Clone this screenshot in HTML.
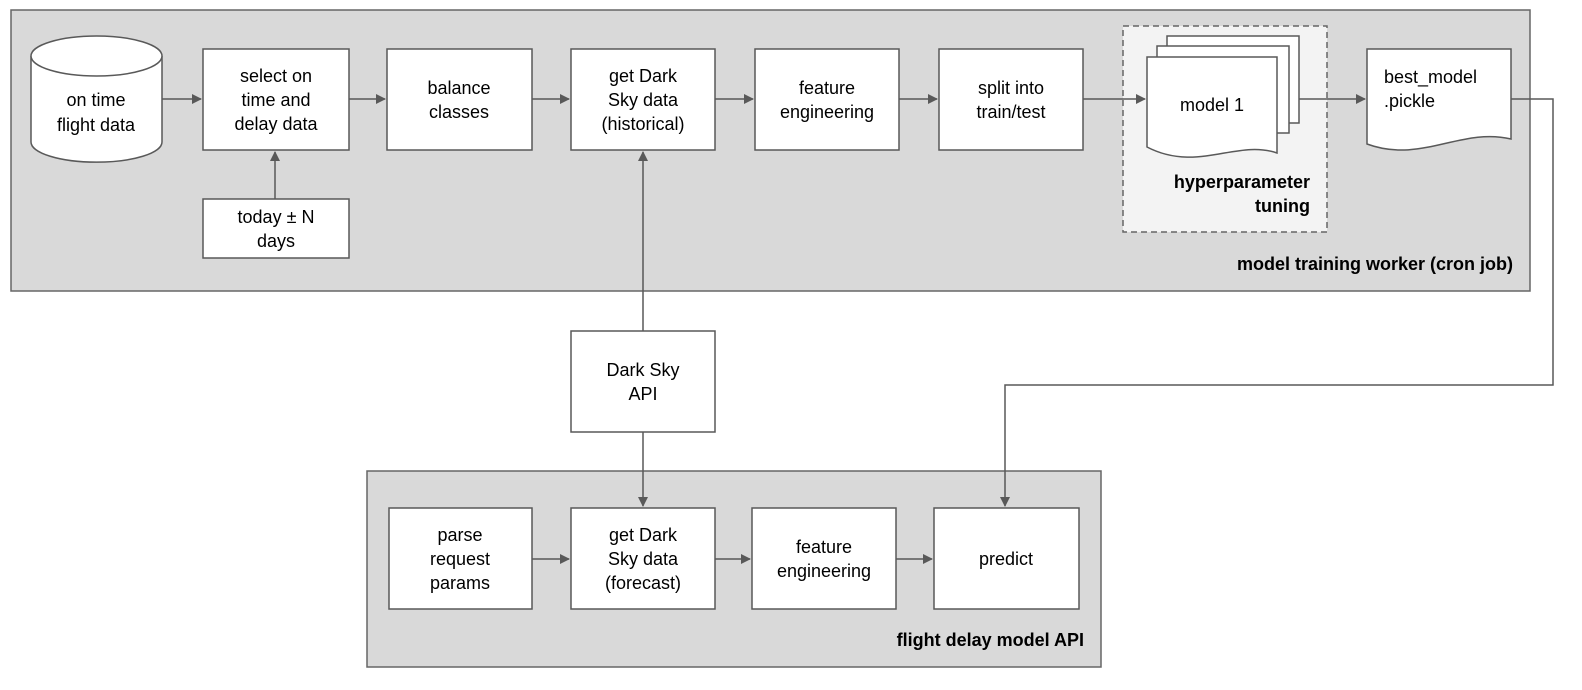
<!DOCTYPE html>
<html><head><style>
html,body{margin:0;padding:0;background:#fff;overflow:hidden;width:1582px;height:690px}
svg{display:block;position:absolute;left:0;top:0}
text{font-family:"Liberation Sans",Arial,sans-serif;font-size:18px;fill:#000}
.b{font-weight:bold}
</style></head><body>
<svg width="1582" height="690" viewBox="0 0 1582 690">
<defs><marker id="a" markerWidth="10" markerHeight="10" refX="9" refY="5" orient="auto" markerUnits="userSpaceOnUse"><path d="M0,0 L10,5 L0,10z" fill="#595959"/></marker></defs>
<g stroke="#666" stroke-width="1.5">
<rect x="11" y="10" width="1519" height="281" fill="#d9d9d9"/>
<rect x="367" y="471" width="734" height="196" fill="#d9d9d9"/>
<rect x="1123" y="26" width="204" height="206" fill="#f3f3f3" stroke-dasharray="6,4"/>
</g>
<g stroke="#595959" stroke-width="1.5" fill="#fff">
<path d="M31,56 v86 a65,20 0 0 0 131,0 v-86"/>
<ellipse cx="96.5" cy="56" rx="65.5" ry="20"/>
<rect x="203" y="49" width="146" height="101"/>
<rect x="203" y="199" width="146" height="59"/>
<rect x="387" y="49" width="145" height="101"/>
<rect x="571" y="49" width="144" height="101"/>
<rect x="755" y="49" width="144" height="101"/>
<rect x="939" y="49" width="144" height="101"/>
<path d="M1167,36 h132 v87 h-132z"/>
<path d="M1157,46 h132 v87 h-132z"/>
<path d="M1147,57 h130 v96 c-40,-14 -80,20 -130,-6z"/>
<path d="M1367,49 h144 v90 c-50,-12 -90,25 -144,5z"/>
<rect x="571" y="331" width="144" height="101"/>
<rect x="389" y="508" width="143" height="101"/>
<rect x="571" y="508" width="144" height="101"/>
<rect x="752" y="508" width="144" height="101"/>
<rect x="934" y="508" width="145" height="101"/>
</g>
<g stroke="#595959" stroke-width="1.5" fill="none" marker-end="url(#a)">
<path d="M162,99 H201"/>
<path d="M349,99 H385"/>
<path d="M532,99 H569"/>
<path d="M715,99 H753"/>
<path d="M899,99 H937"/>
<path d="M1083,99 H1145"/>
<path d="M1299,99 H1365"/>
<path d="M275,199 V152"/>
<path d="M643,331 V152"/>
<path d="M643,432 V506"/>
<path d="M532,559 H569"/>
<path d="M715,559 H750"/>
<path d="M896,559 H932"/>
<path d="M1511,99 H1553 V385 H1005 V506"/>
</g>
<g text-anchor="middle">
<text x="96" y="106">on time</text><text x="96" y="131">flight data</text>
<text x="276" y="82">select on</text><text x="276" y="106">time and</text><text x="276" y="130">delay data</text>
<text x="276" y="223">today ± N</text><text x="276" y="247">days</text>
<text x="459" y="94">balance</text><text x="459" y="118">classes</text>
<text x="643" y="82">get Dark</text><text x="643" y="106">Sky data</text><text x="643" y="130">(historical)</text>
<text x="827" y="94">feature</text><text x="827" y="118">engineering</text>
<text x="1011" y="94">split into</text><text x="1011" y="118">train/test</text>
<text x="1212" y="111">model 1</text>
<text x="643" y="376">Dark Sky</text><text x="643" y="400">API</text>
<text x="460" y="541">parse</text><text x="460" y="565">request</text><text x="460" y="589">params</text>
<text x="643" y="541">get Dark</text><text x="643" y="565">Sky data</text><text x="643" y="589">(forecast)</text>
<text x="824" y="553">feature</text><text x="824" y="577">engineering</text>
<text x="1006" y="565">predict</text>
</g>
<text x="1384" y="83">best_model</text><text x="1384" y="107">.pickle</text>
<g text-anchor="end">
<text class="b" x="1310" y="188">hyperparameter</text><text class="b" x="1310" y="212">tuning</text>
<text class="b" x="1513" y="270">model training worker (cron job)</text>
<text class="b" x="1084" y="646">flight delay model API</text>
</g>
</svg>
</body></html>
